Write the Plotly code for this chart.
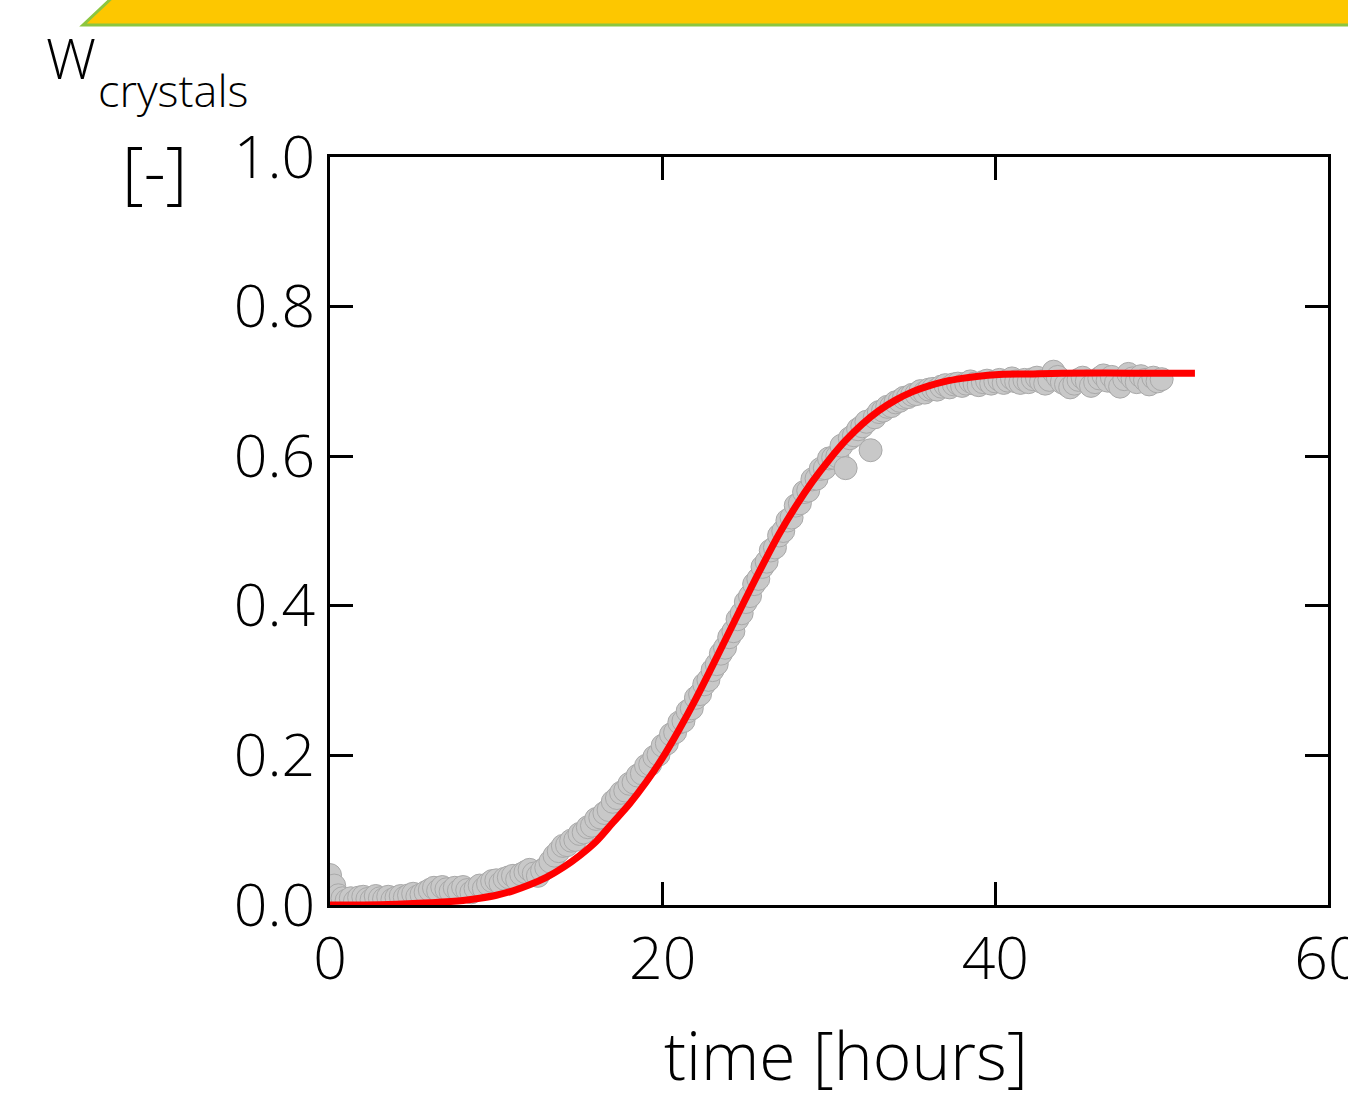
import plotly.graph_objects as go

# ---- data ----
time_h = [i * 0.25 for i in range(201)]  # 0 .. 50 h, sampling every 15 min
w_measured = [
    0.040, 0.026, 0.013, 0.009, 0.006, 0.009, 0.005, 0.010,
    0.011, 0.008, 0.007, 0.012, 0.009, 0.008, 0.011, 0.007,
    0.010, 0.012, 0.010, 0.013, 0.015, 0.011, 0.014, 0.017,
    0.020, 0.023, 0.019, 0.024, 0.021, 0.018, 0.023, 0.019,
    0.024, 0.020, 0.017, 0.022, 0.026, 0.022, 0.028, 0.032,
    0.033, 0.029, 0.035, 0.037, 0.039, 0.034, 0.041, 0.044,
    0.047, 0.042, 0.039, 0.046, 0.050, 0.058, 0.066, 0.072,
    0.079, 0.080, 0.086, 0.087, 0.095, 0.097, 0.104, 0.106,
    0.115, 0.117, 0.123, 0.127, 0.138, 0.143, 0.150, 0.153,
    0.162, 0.164, 0.173, 0.176, 0.186, 0.188, 0.198, 0.201,
    0.213, 0.216, 0.228, 0.231, 0.244, 0.246, 0.259, 0.263,
    0.277, 0.282, 0.295, 0.301, 0.314, 0.322, 0.336, 0.344,
    0.358, 0.366, 0.382, 0.390, 0.405, 0.413, 0.429, 0.436,
    0.452, 0.459, 0.474, 0.478, 0.494, 0.500, 0.514, 0.518,
    0.534, 0.537, 0.552, 0.554, 0.569, 0.570, 0.583, 0.584,
    0.597, 0.598, 0.600, 0.614, 0.584, 0.624, 0.628, 0.636,
    0.640, 0.646, 0.608, 0.652, 0.659, 0.661, 0.666, 0.667,
    0.672, 0.674, 0.678, 0.679, 0.682, 0.683, 0.687, 0.685,
    0.689, 0.690, 0.689, 0.693, 0.695, 0.692, 0.696, 0.697,
    0.694, 0.697, 0.700, 0.697, 0.695, 0.699, 0.701, 0.697,
    0.700, 0.702, 0.698, 0.701, 0.704, 0.700, 0.698, 0.702,
    0.699, 0.703, 0.705, 0.700, 0.697, 0.702, 0.713, 0.706,
    0.699, 0.696, 0.692, 0.697, 0.702, 0.705, 0.700, 0.694,
    0.699, 0.704, 0.708, 0.701, 0.706, 0.698, 0.693, 0.703,
    0.710, 0.704, 0.699, 0.707, 0.702, 0.696, 0.705, 0.700,
    0.703,
]

fit_time = [0, 2, 4, 6, 8, 9, 10, 11, 12, 13, 14, 15, 16, 17, 18, 19, 20,
            21, 22, 23, 24, 25, 26, 27, 28, 29, 30, 31, 32, 33, 34, 35, 36,
            37, 38, 39, 40, 42, 44, 48, 52]
fit_w = [0.000, 0.000, 0.001, 0.003, 0.006, 0.009, 0.013, 0.019, 0.027,
         0.037, 0.050, 0.066, 0.085, 0.110, 0.135, 0.164, 0.197,
         0.235, 0.276, 0.320, 0.365, 0.410, 0.454, 0.496, 0.533, 0.566,
         0.595, 0.621, 0.643, 0.661, 0.675, 0.686, 0.694, 0.700, 0.704,
         0.707, 0.709, 0.710, 0.711, 0.711, 0.711]

x_ticks = [0, 20, 40, 60]
y_ticks = [0.0, 0.2, 0.4, 0.6, 0.8, 1.0]
y_tick_labels = ["0.0", "0.2", "0.4", "0.6", "0.8", "1.0"]

# ---- layout geometry (pixels) ----
W, H = 1348, 1097
L, R, T, B = 330, 20, 157, 192
PW, PH = W - L - R, H - T - B


def px(x):
    return (x - L) / PW


def py(y):
    return (H - B - y) / PH


FONT = "Open Sans"

fig = go.Figure()
fig.add_trace(go.Scatter(
    x=time_h, y=w_measured, mode="markers",
    marker=dict(size=23, color="#c8c8c8", line=dict(color="#a9a9a9", width=1)),
    cliponaxis=True, showlegend=False, hoverinfo="skip"))
fig.add_trace(go.Scatter(
    x=fit_time, y=fit_w, mode="lines", line=dict(color="#ff0000", width=7, shape="spline"),
    cliponaxis=True, showlegend=False))

axis_common = dict(
    showline=True, linecolor="black", linewidth=3, mirror="allticks",
    ticks="inside", ticklen=23, tickwidth=2.5, tickcolor="black",
    showgrid=False, zeroline=False, ticklabeloverflow="allow", automargin=False,
    tickfont=dict(family=FONT, size=59, color="black", weight=300),
)

fig.update_layout(
    width=W, height=H, margin=dict(l=L, r=R, t=T, b=B, autoexpand=False),
    paper_bgcolor="white", plot_bgcolor="white",
    xaxis=dict(range=[0, 60], tickvals=x_ticks, ticklabelstandoff=0, **axis_common),
    yaxis=dict(range=[0, 1], tickvals=y_ticks, ticktext=y_tick_labels,
               ticklabelstandoff=0, **axis_common),
    shapes=[dict(
        type="path", xref="paper", yref="paper",
        path=(f"M {px(83)} {py(25)} L {px(116)} {py(-6)} L {px(1370)} {py(-6)} "
              f"L {px(1370)} {py(25)} Z"),
        fillcolor="#fdc700", line=dict(color="#8cc63f", width=3), layer="above")],
    annotations=[
        dict(text="W", xref="paper", yref="paper", x=px(44), y=py(57),
             xanchor="left", yanchor="middle", showarrow=False,
             font=dict(family=FONT, size=56, color="black", weight=300)),
        dict(text="crystals", xref="paper", yref="paper", x=px(96), y=py(90),
             xanchor="left", yanchor="middle", showarrow=False,
             font=dict(family=FONT, size=45, color="black", weight=300)),
        dict(text="[-]", xref="paper", yref="paper", x=px(154), y=py(170),
             xanchor="center", yanchor="middle", showarrow=False,
             font=dict(family=FONT, size=68, color="black", weight=300)),
        dict(text="time [hours]", xref="paper", yref="paper", x=px(846), y=py(1054),
             xanchor="center", yanchor="middle", showarrow=False,
             font=dict(family=FONT, size=66, color="black", weight=300)),
    ],
)

fig.write_html("out.html")
